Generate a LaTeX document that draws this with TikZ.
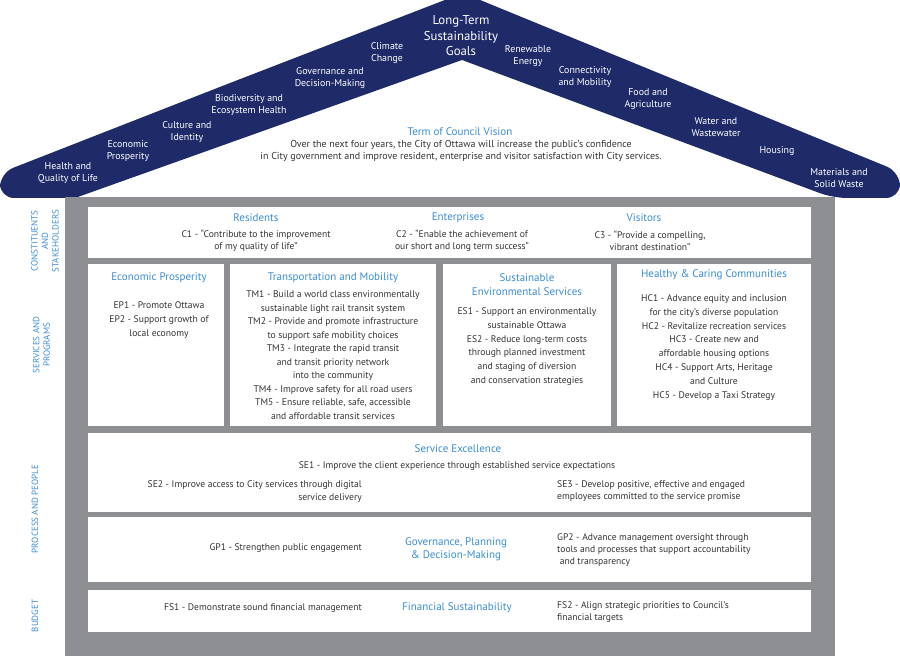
\documentclass[tikz,border=0pt]{standalone}
\usepackage{fontspec}
\setmainfont{PT Sans}
\definecolor{navy}{HTML}{1F2A68}
\definecolor{framec}{HTML}{8E8F92}
\definecolor{ttlc}{HTML}{3A8DD3}
\definecolor{bodyc}{HTML}{333333}
\begin{document}
\begin{tikzpicture}[x=1pt,y=-1pt,
  bodytxt/.style={text=bodyc, font=\fontsize{9.6}{12.5}\selectfont, align=center, inner sep=0pt},
  ttl/.style={text=ttlc, font=\fontsize{11}{13.5}\selectfont, align=center, inner sep=0pt},
  rooftxt/.style={text=white, font=\fontsize{9.9}{12}\selectfont, align=center, inner sep=0pt},
  side/.style={text=ttlc, font=\fontsize{9}{10.5}\selectfont, align=center, rotate=90, inner sep=0pt},
  panel/.style={fill=white, draw=none}]
\useasboundingbox (0,0) rectangle (900,660);
\clip (0,0) rectangle (900,660);
% roof
\fill[navy] (230,83) [rounded corners=14] -- (463,-7) -- (900,172) -- (900,198) -- (833,198) [sharp corners] -- (462,60) -- (75,198) [rounded corners=14] -- (0,198) -- (0,173) -- cycle;
% body frame
\fill[framec] (65,197) rectangle (835,656);
\fill[panel] (88,207) rectangle (811,258);
\fill[panel] (88,264) rectangle (224,426);
\fill[panel] (230,264) rectangle (436,426);
\fill[panel] (443,264) rectangle (611,426);
\fill[panel] (617,264) rectangle (811,426);
\fill[panel] (88,433) rectangle (811,512);
\fill[panel] (88,517) rectangle (811,582);
\fill[panel] (88,590) rectangle (811,632);
% roof labels
\node[rooftxt] (g1) at (68,173) {Health and\\Quality of Life};
\node[rooftxt] (g2) at (128,151) {Economic\\Prosperity};
\node[rooftxt] (g3) at (187,132) {Culture and\\Identity};
\node[rooftxt] (g4) at (249,105) {Biodiversity and\\Ecosystem Health};
\node[rooftxt] (g5) at (330,78) {Governance and\\Decision-Making};
\node[rooftxt] (g6) at (387,53) {Climate\\Change};
\node[rooftxt, font=\fontsize{12.8}{15.5}\selectfont] (g0) at (461,36) {Long-Term\\Sustainability\\Goals};
\node[rooftxt] (g7) at (528,56) {Renewable\\Energy};
\node[rooftxt] (g8) at (585,77) {Connectivity\\and Mobility};
\node[rooftxt] (g9) at (648,99) {Food and\\Agriculture};
\node[rooftxt] (g10) at (716,127) {Water and\\Wastewater};
\node[rooftxt] (g11) at (777,151) {Housing};
\node[rooftxt] (g12) at (839,178) {Materials and\\Solid Waste};
% vision
\node[ttl] (vt) at (460,132) {Term of Council Vision};
\node[bodytxt, font=\fontsize{10}{12.5}\selectfont] (vb) at (461,151) {Over the next four years, the City of Ottawa will increase the public’s confidence\\in City government and improve resident, enterprise and visitor satisfaction with City services.};
% side labels
\node[side] (s1) at (45,241) {CONSTITUENTS\\AND\\STAKEHOLDERS};
\node[side] (s2) at (41.5,345) {SERVICES AND\\PROGRAMS};
\node[side] (s3) at (35,509) {PROCESS AND PEOPLE};
\node[side] (s4) at (35,616) {BUDGET};
% constituents
\node[ttl] (res) at (256,218) {Residents};
\node[bodytxt] (c1) at (256,241) {C1 - “Contribute to the improvement\\of my quality of life”};
\node[ttl] (ent) at (458,218) {Enterprises};
\node[bodytxt] (c2) at (462,241) {C2 - “Enable the achievement of\\our short and long term success”};
\node[ttl] (vis) at (644,218) {Visitors};
\node[bodytxt] (c3) at (650,241) {C3 - “Provide a compelling,\\vibrant destination”};
% services
\node[ttl] (ep) at (159,278) {Economic Prosperity};
\node[bodytxt, font=\fontsize{9.6}{14}\selectfont] (epb) at (159,320) {EP1 - Promote Ottawa\\EP2 - Support growth of\\local economy};
\node[ttl] (tm) at (333,278) {Transportation and Mobility};
\node[bodytxt, font=\fontsize{9.6}{13.5}\selectfont] (tmb) at (333,355) {TM1 - Build a world class environmentally\\sustainable light rail transit system\\TM2 - Provide and promote infrastructure\\to support safe mobility choices\\TM3 - Integrate the rapid transit\\and transit priority network\\into the community\\TM4 - Improve safety for all road users\\TM5 - Ensure reliable, safe, accessible\\and affordable transit services};
\node[ttl] (es) at (527,284.5) {Sustainable\\Environmental Services};
\node[bodytxt, font=\fontsize{9.6}{13.8}\selectfont] (esb) at (527,346.5) {ES1 - Support an environmentally\\sustainable Ottawa\\ES2 - Reduce long-term costs\\through planned investment\\and staging of diversion\\and conservation strategies};
\node[ttl] (hc) at (714,275) {Healthy \& Caring Communities};
\node[bodytxt, font=\fontsize{9.6}{13.85}\selectfont] (hcb) at (714,347.5) {HC1 - Advance equity and inclusion\\for the city’s diverse population\\HC2 - Revitalize recreation services\\HC3 - Create new and\\affordable housing options\\HC4 - Support Arts, Heritage\\and Culture\\HC5 - Develop a Taxi Strategy};
% service excellence
\node[ttl] (se) at (458,449) {Service Excellence};
\node[bodytxt] (se1) at (457,466) {SE1 - Improve the client experience through established service expectations};
\node[bodytxt, align=right, anchor=east] (se2) at (362,491.5) {SE2 - Improve access to City services through digital\\service delivery};
\node[bodytxt, align=left, anchor=west] (se3) at (557,491) {SE3 - Develop positive, effective and engaged\\employees committed to the service promise};
% governance
\node[bodytxt, anchor=east] (gp1) at (362,548) {GP1 - Strengthen public engagement};
\node[ttl] (gp) at (456,549) {Governance, Planning\\\& Decision-Making};
\node[bodytxt, align=left, anchor=west, font=\fontsize{9.6}{12}\selectfont] (gp2) at (557,550) {GP2 - Advance management oversight through\\tools and processes that support accountability\\\ and transparency};
% finance
\node[bodytxt, anchor=east] (fs1) at (362,608) {FS1 - Demonstrate sound financial management};
\node[ttl] (fs) at (457,608) {Financial Sustainability};
\node[bodytxt, align=left, anchor=west] (fs2) at (557,612) {FS2 - Align strategic priorities to Council’s\\financial targets};
\end{tikzpicture}
\end{document}
